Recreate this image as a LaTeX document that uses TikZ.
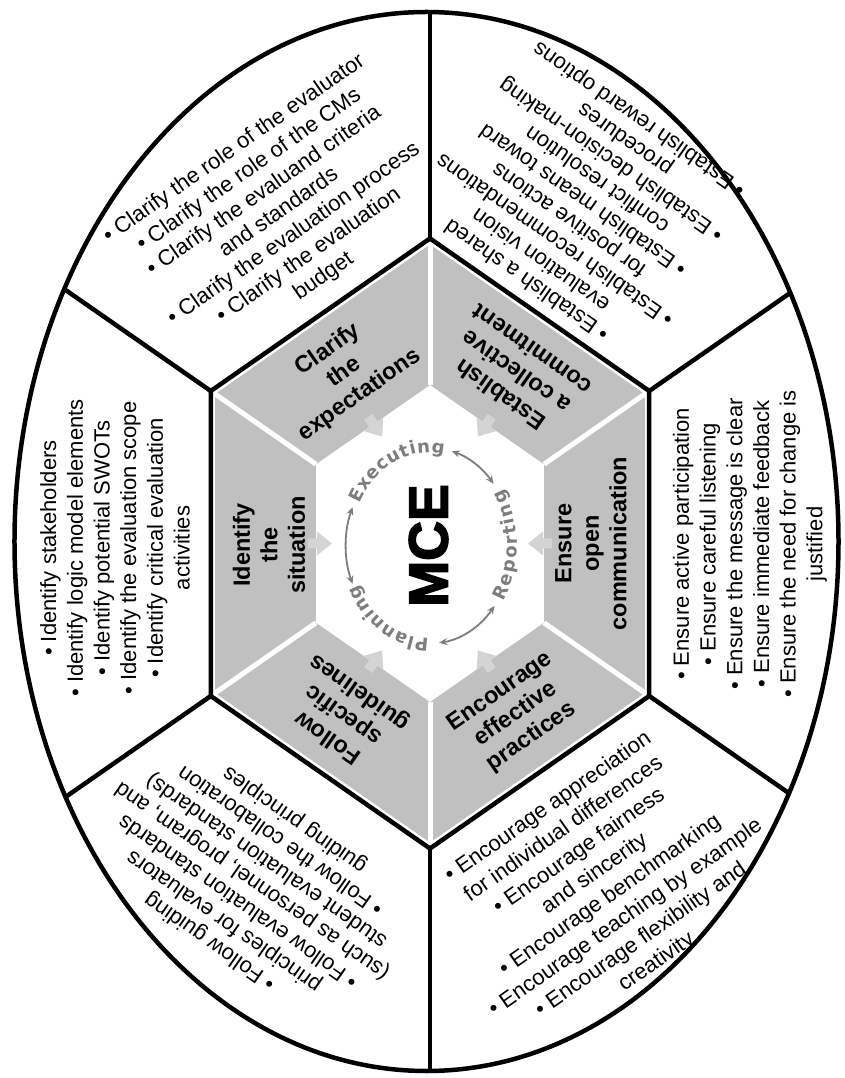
\documentclass[tikz,border=0pt]{standalone}
\usepackage{fontspec}
\setmainfont{Liberation Sans}
\newfontfamily\ringfont{DejaVu Sans}
\newfontfamily\heavyfont{Liberation Sans Bold}[FakeBold=3]
\usepackage{tikz}
\usetikzlibrary{arrows.meta, decorations.text}

\definecolor{mceGray}{RGB}{192, 192, 192}
\definecolor{mceLight}{RGB}{212, 212, 212}
\definecolor{mceRing}{RGB}{125, 125, 125}

\newcommand{\headsize}{\fontsize{23.5}{27.5}\selectfont\bfseries}
\newcommand{\ringsize}{\ringfont\bfseries\fontsize{18}{18}\selectfont}

\begin{document}
\begin{tikzpicture}[x=1pt, y=1pt,
  rim/.style={line width=4.5pt, black, line join=miter},
  seam/.style={line width=5pt, white},
  sector/.style={fill=mceGray},
  pointer/.style={fill=mceLight},
  heading/.style={align=center, font=\headsize, inner sep=0pt},
  items/.style={align=center, font=\fontsize{22}{#1}\selectfont, inner sep=0pt},
  items/.default=26,
  phase/.style={decorate, decoration={text along path, text align=fit to path,
                text color=mceRing}},
  cyclearrow/.style={{Stealth[length=8pt, width=7pt]}-{Stealth[length=8pt, width=7pt]},
                     line width=1.8pt, mceRing},
]
  \useasboundingbox[fill=white] (-430,-534.5) rectangle (414,543.5);

  % grey ring between the two hexagons
  \begin{scope}[xscale=0.83]
    \fill[sector, even odd rule]
      (90:299) -- (30:299) -- (-30:299) -- (-90:299) -- (-150:299) -- (150:299) -- cycle
      (90:158.6) -- (30:158.6) -- (-30:158.6) -- (-90:158.6) -- (-150:158.6) -- (150:158.6) -- cycle;
    \foreach \a in {90,30,...,-210}
      \draw[seam] (\a:158.6) -- (\a:305);
  \end{scope}

  % small arrows pointing into the core
  \foreach \px/\py/\r in {-113/0/0, -56.5/119.3/-55, 56.5/119.3/-125,
                          113/0/180, 56.5/-119.3/125, -56.5/-119.3/55}
    \fill[pointer, shift={(\px,\py)}, rotate=\r]
      (-9,-5) -- (0,-5) -- (0,-12) -- (15,0) -- (0,12) -- (0,5) -- (-9,5) -- cycle;

  % spokes out to the ellipse
  \begin{scope}
    \clip (-3.5,2) ellipse [x radius=412, y radius=529.5];
    \begin{scope}[xscale=0.83]
      \foreach \a in {90,30,...,-210}
        \draw[rim] (\a:305) -- (\a:800);
    \end{scope}
  \end{scope}
  \draw[rim, xscale=0.83] (90:305) -- (30:305) -- (-30:305) -- (-90:305)
    -- (-150:305) -- (150:305) -- cycle;
  \draw[rim] (-3.5,2) ellipse [x radius=412, y radius=529.5];

  \node[heading, rotate=90] (identify) at (-161,-1.5) {Identify\\the\\situation};
  \node[heading, rotate=35] (clarify) at (-86,171) {Clarify\\the\\expectations};
  \node[heading, rotate=145] (establish) at (86,171) {Establish\\a collective\\commitment};
  \node[heading, rotate=90] (ensure) at (161,0) {Ensure\\open\\communication};
  \node[heading, rotate=35] (encourage) at (86,-171) {Encourage\\effective\\practices};
  \node[heading, rotate=145] (follow) at (-86,-171) {Follow\\specific\\guidelines};

  \node[items=26.7, rotate=90] (identifylist) at (-315,-4.5) {%
    \textbullet{} Identify stakeholders\\
    \textbullet{} Identify logic model elements\\
    \textbullet{} Identify potential SWOTs\\
    \textbullet{} Identify the evaluation scope\\
    \textbullet{} Identify critical evaluation\\
    activities};
  \node[items, rotate=35] (clarifylist) at (-151,330.5) {%
    \textbullet{} Clarify the role of the evaluator\\
    \textbullet{} Clarify the role of the CMs\\
    \textbullet{} Clarify the evaluand criteria\\
    and standards\\
    \textbullet{} Clarify the evaluation process\\
    \textbullet{} Clarify the evaluation\\
    budget};
  \node[items=24.5, rotate=145] (establishlist) at (153.5,344.5) {%
    \textbullet{} Establish a shared\\
    evaluation vision\\
    \textbullet{} Establish recommendations\\
    for positive actions\\
    \textbullet{} Establish means toward\\
    conflict resolution\\
    \textbullet{} Establish decision-making\\
    procedures\\
    \textbullet{} Establish reward options};
  \node[items=26.7, rotate=90] (ensurelist) at (320,-0.5) {%
    \textbullet{} Ensure active participation\\
    \textbullet{} Ensure careful listening\\
    \textbullet{} Ensure the message is clear\\
    \textbullet{} Ensure immediate feedback\\
    \textbullet{} Ensure the need for change is\\
    justified};
  \node[items=27, rotate=35] (encouragelist) at (172.5,-341.5) {%
    \textbullet{} Encourage appreciation\\
    for individual differences\\
    \textbullet{} Encourage fairness\\
    and sincerity\\
    \textbullet{} Encourage benchmarking\\
    \textbullet{} Encourage teaching by example\\
    \textbullet{} Encourage flexibility and\\
    creativity};
  \node[items=24.7, rotate=145] (followlist) at (-177.5,-337) {%
    \textbullet{} Follow guiding\\
    principles for evaluators\\
    \textbullet{} Follow evaluation standards\\
    (such as personnel, program, and\\
    student evaluation standards)\\
    \textbullet{} Follow the collaboration\\
    guiding principles};

  \node[font=\heavyfont\fontsize{55}{55}\selectfont, rotate=90, inner sep=0pt]
    (mce) at (-1.5,-2) {MCE};

  % the three phases around the core
  \begin{scope}[shift={(-1,-2)}]
    \path[phase, decoration={text={|\ringsize|Executing}}]
      (153:78 and 93) arc[start angle=153, end angle=79, x radius=78, y radius=93];
    \path[phase, decoration={text={|\ringsize|Reporting}}]
      (-33:88 and 103) arc[start angle=-33, end angle=33, x radius=88, y radius=103];
    \path[phase, decoration={text={|\ringsize|Planning}}]
      (-90:78 and 93) arc[start angle=-90, end angle=-155, x radius=78, y radius=93];
    \draw[cyclearrow] (74:83 and 98) arc[start angle=74, end angle=39, x radius=83, y radius=98];
    \draw[cyclearrow] (-38:83 and 98) arc[start angle=-38, end angle=-83, x radius=83, y radius=98];
    \draw[cyclearrow] (157:83 and 98) arc[start angle=157, end angle=203, x radius=83, y radius=98];
  \end{scope}
\end{tikzpicture}
\end{document}
